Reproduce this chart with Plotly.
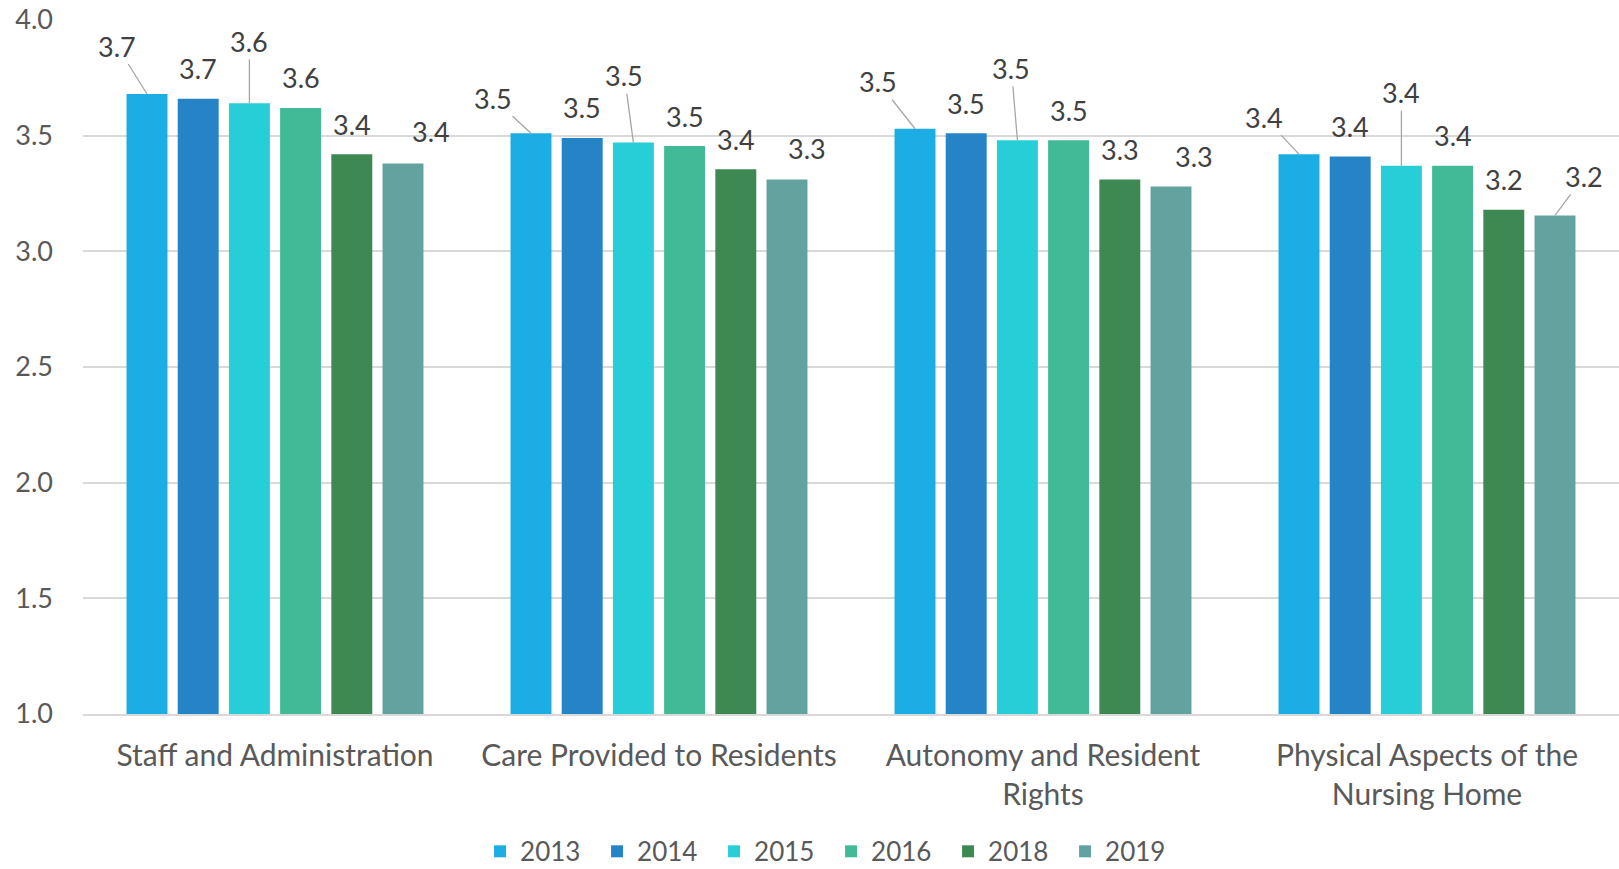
import plotly.graph_objects as go

categories = ["Staff and Administration", "Care Provided to Residents",
              "Autonomy and Resident<br>Rights", "Physical Aspects of the<br>Nursing Home"]
years = ["2013", "2014", "2015", "2016", "2018", "2019"]
v2013 = [3.68, 3.51, 3.53, 3.42]
v2014 = [3.66, 3.49, 3.51, 3.41]
v2015 = [3.64, 3.47, 3.48, 3.37]
v2016 = [3.62, 3.455, 3.48, 3.37]
v2018 = [3.42, 3.355, 3.31, 3.18]
v2019 = [3.38, 3.31, 3.28, 3.155]
series = [v2013, v2014, v2015, v2016, v2018, v2019]
colors = ["#1CADE4", "#2683C6", "#27CED7", "#42BA97", "#3E8853", "#62A39F"]

# label placement (pixel offsets from the bar top, leader line flag) per category, per year
label_offsets = [
    [(-30, -48, True), (0, -30, False), (0, -62, True), (0, -30, False), (0, -30, False), (28, -32, False)],
    [(-38, -35, True), (0, -30, False), (-9, -67, True), (0, -30, False), (0, -30, False), (20, -31, False)],
    [(-37, -47, True), (0, -30, False), (-6, -72, True), (0, -30, False), (0, -30, False), (23, -30, False)],
    [(-35, -37, True), (0, -30, False), (0, -73, True), (0, -30, False), (0, -30, False), (29, -39, True)],
]

FONT = "Lato"
BARGAP = 0.2
LABEL_SIZE = 27
fig = go.Figure()
for name, vals, col in zip(years, series, colors):
    fig.add_trace(go.Bar(x=categories, y=vals, name=name, marker_color=col,
                         marker_line_width=0, hoverinfo="skip"))

n = len(years)
annotations = []
for k, vals in enumerate(series):
    for ci, v in enumerate(vals):
        xc = ci - (1 - BARGAP) / 2 + (k + 0.5) * (1 - BARGAP) / n
        dx, dy, leader = label_offsets[ci][k]
        txt = f"{v:.1f}"
        if leader:
            annotations.append(dict(x=xc, y=v, xref="x", yref="y", text=txt, showarrow=True,
                                    ax=dx, ay=dy, arrowhead=0, arrowwidth=1.3, arrowcolor="#A6A6A6",
                                    standoff=0, font=dict(family=FONT, size=LABEL_SIZE, color="#404040")))
        else:
            annotations.append(dict(x=xc, y=v, xref="x", yref="y", text=txt, showarrow=False,
                                    xshift=dx, yshift=-dy, xanchor="center", yanchor="middle",
                                    font=dict(family=FONT, size=LABEL_SIZE, color="#404040")))

fig.update_layout(
    width=1619, height=869,
    margin=dict(l=83, r=0, t=20, b=155, autoexpand=False),
    paper_bgcolor="white", plot_bgcolor="white",
    barmode="group", bargap=BARGAP, bargroupgap=0.2,
    font=dict(family=FONT, size=27, color="#595959"),
    annotations=annotations,
    showlegend=True,
    legend=dict(orientation="h", x=0.2585, xanchor="left", y=-0.198, yanchor="middle",
                font=dict(family=FONT, size=26, color="#595959"), itemwidth=30,
                entrywidth=72, traceorder="normal"),
    yaxis=dict(range=[1, 4], dtick=0.5, tickformat=".1f", showgrid=True,
               gridcolor="#D9D9D9", gridwidth=1.5, zeroline=False, showline=False,
               ticklabelstandoff=29, tickfont=dict(family=FONT, size=27, color="#595959")),
    xaxis=dict(showline=True, linecolor="#D9D9D9", linewidth=1.5, ticks="",
               ticklabelstandoff=14, tickfont=dict(family=FONT, size=30, color="#595959")),
)

fig.write_html("out.html", config={"displayModeBar": False},
               post_script="document.body.style.margin='0';document.body.style.overflow='hidden';")
